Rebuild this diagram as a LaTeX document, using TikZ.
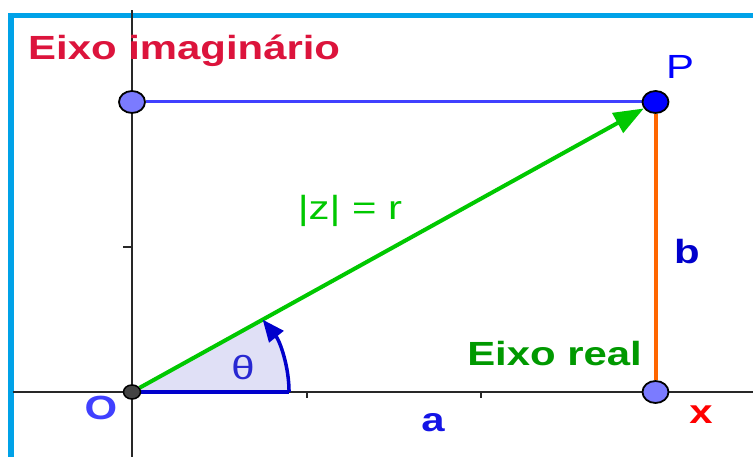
\documentclass[tikz,border=0pt]{standalone}
\usepackage{fontspec}
\setmainfont{Liberation Sans}
\usetikzlibrary{arrows.meta,shapes.geometric,backgrounds}
\definecolor{framecyan}{RGB}{0,162,232}
\definecolor{axisgray}{RGB}{40,40,40}
\definecolor{crimsonlbl}{RGB}{220,20,60}
\definecolor{greenlbl}{RGB}{0,153,0}
\definecolor{vecgreen}{RGB}{0,200,0}
\definecolor{linblue}{RGB}{64,64,255}
\definecolor{arcblue}{RGB}{0,0,204}
\definecolor{sectorfill}{RGB}{224,224,246}
\definecolor{orangeseg}{RGB}{255,102,0}
\definecolor{ptlight}{RGB}{123,123,255}
\definecolor{ptdark}{RGB}{68,68,68}
\definecolor{thetablue}{RGB}{40,40,210}
\definecolor{ablue}{RGB}{20,20,230}
\begin{document}
\begin{tikzpicture}[x=174.5pt,y=145pt,
  lbl/.style={inner sep=0pt, xscale=1.25, font=\fontsize{33.5}{38}\selectfont},
  bold lbl/.style={lbl, font=\fontsize{33.5}{38}\selectfont\bfseries},
  ptbig/.style={ellipse, draw=black, line width=1.8pt, minimum width=26pt, minimum height=22pt, inner sep=0pt},
  axisline/.style={draw=axisgray, line width=2pt}]
\useasboundingbox (-132pt,-65pt) rectangle (621pt,392pt);
% points
\node[ptbig, fill=ptlight] (Q) at (0,2) {};
\node[ptbig, fill=blue] (P) at (3,2) {};
\node[ptbig, fill=ptlight] (R) at (3,0) {};
\node[ellipse, draw=black, line width=1.5pt, fill=ptdark, minimum width=17pt, minimum height=14pt, inner sep=0pt] (O) at (0,0) {};
\begin{scope}[on background layer]
\fill[white] (-132pt,-65pt) rectangle (621pt,392pt);
% frame
\draw[framecyan, line width=5.5pt] (640pt,376.5pt) -- (-121pt,376.5pt) -- (-121pt,-80pt);
% axes
\draw[axisline] (-119pt,0) -- (640pt,0);
\draw[axisline] (0,-80pt) -- (0,382pt);
\draw[axisline] (0,1) -- ++(-9pt,0);
\draw[axisline] (1,0) -- ++(0,-6pt);
\draw[axisline] (2,0) -- ++(0,-6pt);
% angle sector
\fill[sectorfill] (0,0) -- (0.9,0) arc[start angle=0, end angle=33.69, radius=0.9] -- cycle;
\draw[arcblue, line width=3.5pt] (0,0) -- (0.9,0);
% connectors
\draw[linblue, line width=3pt] (Q) -- (P);
\draw[orangeseg, line width=4pt] (P) -- (R);
\draw[vecgreen, line width=4pt, -{Triangle[length=30pt,width=22pt]}] (O) -- (P);
\draw[arcblue, line width=3.5pt, -{Triangle[length=22pt,width=18pt]}] (0.9,0) arc[start angle=0, end angle=33.69, radius=0.9];
\end{scope}
% labels
\node[bold lbl, text=crimsonlbl, anchor=base west] (lim) at (-104pt,332pt) {Eixo imaginário};
\node[bold lbl, text=greenlbl, anchor=base west] (lre) at (335pt,26pt) {Eixo real};
\node[lbl, text=vecgreen, anchor=base] (lz) at (218pt,172pt) {|z| = r};
\node[lbl, text=blue, anchor=base] (lP) at (548pt,313pt) {P};
\node[bold lbl, text=arcblue, anchor=base] (lb) at (555pt,128pt) {b};
\node[bold lbl, text=ablue, anchor=base] (la) at (301pt,-40pt) {a};
\node[bold lbl, text=linblue, anchor=base] (lO) at (-31pt,-28pt) {O};
\node[bold lbl, text=red, anchor=base] (lx) at (569pt,-32pt) {x};
\node[lbl, text=thetablue, anchor=base] (lt) at (111pt,12pt) {θ};
\end{tikzpicture}
\end{document}
